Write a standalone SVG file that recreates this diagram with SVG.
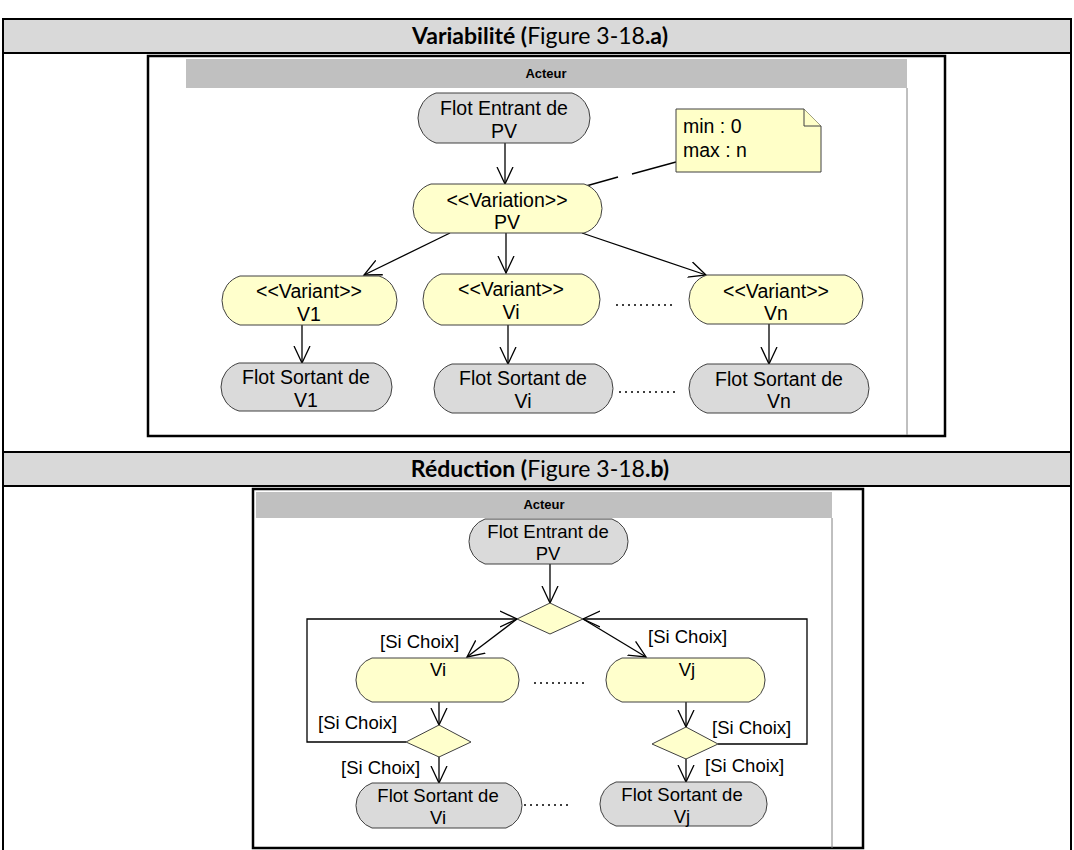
<svg xmlns="http://www.w3.org/2000/svg" width="1074" height="850" viewBox="0 0 1074 850">
<style>
.hdr{fill:#d9d9d9;stroke:none}
.tline{stroke:#000;stroke-width:2;fill:none}
.title{font-family:Lato,"Open Sans",sans-serif;font-size:23px;fill:#000;text-anchor:middle}
.b{font-weight:bold}
.box{fill:#fff;stroke:#000;stroke-width:2.5}
.band{fill:#c0c0c0;stroke:none}
.lane{stroke:#808080;stroke-width:1;fill:none}
.act{font-family:"Liberation Sans",Arial,sans-serif;font-size:13px;font-weight:bold;text-anchor:middle;fill:#000}
.gray{fill:#dadada;stroke:#404040;stroke-width:1}
.yel{fill:#ffffcc;stroke:#404040;stroke-width:1}
.t1{font-family:"Liberation Sans",Arial,sans-serif;font-size:19.5px;text-anchor:middle;fill:#000}
.t2{font-family:"Liberation Sans",Arial,sans-serif;font-size:18.5px;text-anchor:middle;fill:#000}
.lbl{font-family:"Liberation Sans",Arial,sans-serif;font-size:18.5px;fill:#000}
.note{fill:#ffffc8;stroke:#404040;stroke-width:1}
.nt{font-family:"Liberation Sans",Arial,sans-serif;font-size:19.5px;fill:#000}
.c{stroke:#000;stroke-width:1.3;fill:none}
.ca{stroke:#000;stroke-width:1.3;fill:none;marker-end:url(#arr)}
.dots{stroke:#000;stroke-width:1.5;stroke-dasharray:2 4;fill:none}
</style>
<defs>
<marker id="arr" markerUnits="userSpaceOnUse" markerWidth="20" markerHeight="18" refX="17" refY="8" orient="auto" viewBox="0 0 20 16">
<path d="M0,0 L17,8 L0,16" fill="none" stroke="#000" stroke-width="1.3"/>
</marker>
</defs>
<rect width="1074" height="850" fill="#fff"/>

<g id="table">
<rect class="hdr" x="3" y="19" width="1069" height="34"/>
<rect class="hdr" x="3" y="452" width="1069" height="34"/>
<line class="tline" x1="2" y1="19" x2="1072" y2="19"/>
<line class="tline" x1="2" y1="53" x2="1072" y2="53"/>
<line class="tline" x1="2" y1="452" x2="1072" y2="452"/>
<line class="tline" x1="2" y1="486" x2="1072" y2="486"/>
<line class="tline" x1="3" y1="18" x2="3" y2="850"/>
<line class="tline" x1="1071" y1="18" x2="1071" y2="850"/>
<text class="title" x="540" y="44"><tspan class="b">Variabilité (</tspan>Figure 3-18<tspan class="b">.a)</tspan></text>
<text class="title" x="540" y="477"><tspan class="b">Réduction (</tspan>Figure 3-18<tspan class="b">.b)</tspan></text>
</g>

<g id="frame-a">
<rect class="box" x="148" y="56" width="797" height="380"/>
<rect class="band" x="186" y="59" width="721" height="29"/>
<line class="lane" x1="907" y1="88" x2="907" y2="435"/>
<text class="act" x="546" y="78">Acteur</text>
</g>

<g id="frame-b">
<rect class="box" x="253" y="489" width="610" height="359"/>
<rect class="band" x="256" y="492" width="576" height="26"/>
<line class="lane" x1="832" y1="518" x2="832" y2="848"/>
<text class="act" x="544" y="509">Acteur</text>
</g>

<g id="connectors">
<line class="ca" x1="505" y1="143" x2="505" y2="184"/>
<line class="ca" x1="450" y1="233" x2="364" y2="275"/>
<line class="ca" x1="506" y1="233" x2="506" y2="273"/>
<line class="ca" x1="582" y1="233" x2="706" y2="275"/>
<line class="ca" x1="302" y1="325" x2="302" y2="363"/>
<line class="ca" x1="508" y1="325" x2="508" y2="364"/>
<line class="ca" x1="769" y1="324" x2="769" y2="364"/>
<line class="c" x1="586" y1="186" x2="618" y2="177"/>
<line class="c" x1="632" y1="174" x2="676" y2="162"/>
<line class="dots" x1="616" y1="305" x2="673" y2="305"/>
<line class="dots" x1="619" y1="392" x2="677" y2="392"/>

<line class="ca" x1="550" y1="564" x2="550" y2="603"/>
<line class="ca" x1="517" y1="619" x2="467" y2="657"/>
<line class="ca" x1="583" y1="619" x2="646" y2="657"/>
<polyline class="ca" points="406,742 307,742 307,619 517,619"/>
<polyline class="ca" points="718,744 807,744 807,619 583,619"/>
<line class="ca" x1="439" y1="702" x2="439" y2="725"/>
<line class="ca" x1="439" y1="756" x2="439" y2="783"/>
<line class="ca" x1="686" y1="702" x2="686" y2="727"/>
<line class="ca" x1="686" y1="757" x2="686" y2="782"/>
<line class="dots" x1="534" y1="683" x2="588" y2="683"/>
<line class="dots" x1="518" y1="805" x2="572" y2="805"/>
</g>

<g id="flot-entrant-a">
<path class="gray" d="M436,93 L572,93 A26.36,26.36 0 0 1 572,143 L436,143 A26.36,26.36 0 0 1 436,93 Z"/>
<text class="t1" x="504" y="115">Flot Entrant de</text>
<text class="t1" x="504" y="138">PV</text>
</g>
<g id="variation-pv">
<path class="yel" d="M431,184 L584,184 A25.67,25.67 0 0 1 584,233 L431,233 A25.67,25.67 0 0 1 431,184 Z"/>
<text class="t1" x="507" y="207">&lt;&lt;Variation&gt;&gt;</text>
<text class="t1" x="507" y="229">PV</text>
</g>
<g id="note">
<path class="note" d="M676,109 L804,109 L821,126 L821,172 L676,172 Z"/>
<path class="note" d="M804,109 L804,126 L821,126" fill="none"/>
<text class="nt" x="683" y="133">min : 0</text>
<text class="nt" x="683" y="157">max : n</text>
</g>
<g id="variant-v1">
<path class="yel" d="M240,276 L379,276 A25.67,25.67 0 0 1 379,325 L240,325 A25.67,25.67 0 0 1 240,276 Z"/>
<text class="t1" x="309" y="298">&lt;&lt;Variant&gt;&gt;</text>
<text class="t1" x="309" y="321">V1</text>
</g>
<g id="variant-vi">
<path class="yel" d="M441,274 L582,274 A27.06,27.06 0 0 1 582,325 L441,325 A27.06,27.06 0 0 1 441,274 Z"/>
<text class="t1" x="511" y="296">&lt;&lt;Variant&gt;&gt;</text>
<text class="t1" x="511" y="319">Vi</text>
</g>
<g id="variant-vn">
<path class="yel" d="M707,275 L845,275 A25.67,25.67 0 0 1 845,324 L707,324 A25.67,25.67 0 0 1 707,275 Z"/>
<text class="t1" x="776" y="298">&lt;&lt;Variant&gt;&gt;</text>
<text class="t1" x="776" y="320">Vn</text>
</g>
<g id="flot-sortant-v1">
<path class="gray" d="M239,363 L374,363 A25,25 0 0 1 374,411 L239,411 A25,25 0 0 1 239,363 Z"/>
<text class="t1" x="306" y="384">Flot Sortant de</text>
<text class="t1" x="306" y="407">V1</text>
</g>
<g id="flot-sortant-vi-a">
<path class="gray" d="M452,364 L595,364 A25.67,25.67 0 0 1 595,413 L452,413 A25.67,25.67 0 0 1 452,364 Z"/>
<text class="t1" x="523" y="385">Flot Sortant de</text>
<text class="t1" x="523" y="408">Vi</text>
</g>
<g id="flot-sortant-vn">
<path class="gray" d="M707,364 L851,364 A25.67,25.67 0 0 1 851,413 L707,413 A25.67,25.67 0 0 1 707,364 Z"/>
<text class="t1" x="779" y="386">Flot Sortant de</text>
<text class="t1" x="779" y="408">Vn</text>
</g>

<g id="flot-entrant-b">
<path class="gray" d="M485,519 L612,519 A23.8,23.8 0 0 1 612,564 L485,564 A23.8,23.8 0 0 1 485,519 Z"/>
<text class="t2" x="548" y="538">Flot Entrant de</text>
<text class="t2" x="548" y="560">PV</text>
</g>
<g id="decision-1">
<polygon class="yel" points="550,603 583,619 550,634 517,619"/>
</g>
<g id="node-vi-b">
<path class="yel" d="M372,658 L503,658 A23.1,23.1 0 0 1 503,702 L372,702 A23.1,23.1 0 0 1 372,658 Z"/>
<text class="t2" x="438" y="676">Vi</text>
</g>
<g id="node-vj-b">
<path class="yel" d="M622,658 L749,658 A23.1,23.1 0 0 1 749,702 L622,702 A23.1,23.1 0 0 1 622,658 Z"/>
<text class="t2" x="687" y="676">Vj</text>
</g>
<g id="decision-vi">
<polygon class="yel" points="439,725 471,742 439,757 406,742"/>
</g>
<g id="decision-vj">
<polygon class="yel" points="686,727 718,744 686,759 652,744"/>
</g>
<g id="flot-sortant-vi-b">
<path class="gray" d="M372,783 L506,783 A23.8,23.8 0 0 1 506,828 L372,828 A23.8,23.8 0 0 1 372,783 Z"/>
<text class="t2" x="438" y="802">Flot Sortant de</text>
<text class="t2" x="438" y="824">Vi</text>
</g>
<g id="flot-sortant-vj-b">
<path class="gray" d="M616,782 L751,782 A23.1,23.1 0 0 1 751,826 L616,826 A23.1,23.1 0 0 1 616,782 Z"/>
<text class="t2" x="682" y="801">Flot Sortant de</text>
<text class="t2" x="682" y="823">Vj</text>
</g>
<g id="guards">
<text class="lbl" x="380" y="648">[Si Choix]</text>
<text class="lbl" x="648" y="643">[Si Choix]</text>
<text class="lbl" x="318" y="729">[Si Choix]</text>
<text class="lbl" x="341" y="774">[Si Choix]</text>
<text class="lbl" x="712" y="734">[Si Choix]</text>
<text class="lbl" x="705" y="772">[Si Choix]</text>
</g>
</svg>
